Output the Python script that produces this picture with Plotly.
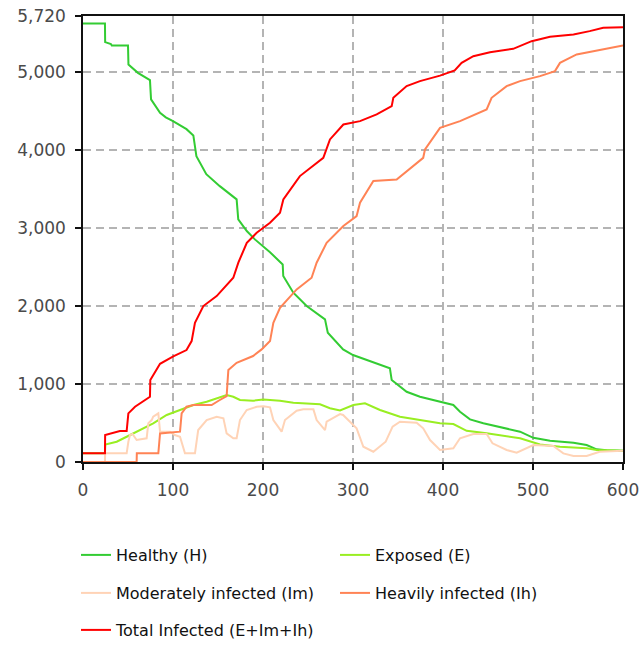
import plotly.graph_objects as go

# ---------------- data ----------------
time_h = [0, 24.4, 24.6, 31, 32, 50, 50.5, 61, 74.4, 75.6, 85.6, 92, 100, 115, 122.6, 126, 137, 152,
          170.7, 172.5, 182, 191, 207.8, 221.9, 222.5, 233.7, 248.5, 268.9, 272, 289, 300, 319, 330,
          341, 343, 359.6, 374.4, 396.7, 411.5, 418.9, 430, 444.8, 470.7, 485.6, 500.4, 518.9, 545,
          559.6, 570.7, 581.8, 600]
healthy = [5624, 5624, 5385, 5360, 5342, 5342, 5099, 4991, 4897, 4650, 4479, 4420, 4372, 4269, 4188,
           3923, 3692, 3538, 3368, 3111, 2962, 2855, 2690, 2534, 2385, 2171, 2000, 1829, 1658, 1444,
           1372, 1295, 1244, 1201, 1051, 901, 837, 773, 731, 645, 547, 496, 432, 389, 310, 273, 248,
           218, 162, 150, 145]

time_e = [0, 24.4, 24.8, 37.4, 48.5, 63.3, 78, 93, 107.8, 122.6, 137.4, 152, 159.6, 167, 174.4, 189,
          200.4, 218.9, 233.7, 263.3, 274.4, 285.6, 300.4, 313.3, 330, 352.2, 374.4, 396.7, 411.5,
          426.3, 448.5, 485.6, 507.8, 530, 559.6, 570.7, 600]
exposed = [111, 111, 225, 260, 324, 410, 496, 603, 667, 731, 773, 829, 859, 837, 795, 786,
           800, 786, 760, 740, 690, 660, 730, 752, 667, 581, 538, 496, 487,
           400, 368, 304, 225, 196, 175, 154, 145]

time_im = [0, 24.4, 24.6, 48.5, 50.4, 52.2, 55, 59.6, 70.7, 72.6, 76.3, 78, 83.7, 85.6, 96.7, 102,
           107.8, 113.3, 124.4, 128, 137.4, 148.5, 156, 159.6, 167, 170.7, 174.4, 181.9, 193, 200.4,
           207.8, 211.5, 220.7, 224.4, 237.4, 244.8, 256, 259.6, 268.9, 270.7, 285.6, 289, 304,
           311.5, 322.6, 336.3, 344, 352.2, 370.7, 378, 385.6, 396.7, 411.5, 418.9, 433.7, 448.5,
           455, 470.7, 481.9, 493, 500.4, 522.6, 533.7, 545, 559.6, 574, 600]
moderate = [0, 0, 111, 111, 260, 346, 360, 282, 304, 496, 538, 581, 624, 389, 389, 346,
            324, 111, 111, 410, 538, 581, 560, 367, 304, 304, 538, 667, 709, 715,
            701, 538, 389, 538, 658, 675, 675, 538, 410, 517, 615, 603, 432,
            196, 132, 260, 453, 517, 504, 432, 282, 154, 175, 304, 359, 359,
            240, 154, 119, 175, 218, 205, 111, 77, 77, 132, 145]

time_ih = [0, 59.6, 59.8, 83.7, 85.6, 93, 102, 107.8, 109.6, 115, 122.6, 142.9, 152, 159.6, 160.5,
           161.5, 170.7, 189, 198.5, 207.8, 211.5, 218.9, 237.4, 254, 259.6, 270.7, 289.3, 304,
           307.8, 322.6, 348.5, 367, 378, 380, 396.7, 418.9, 448.5, 454, 470.7, 485.6, 507.8,
           524.4, 530, 548.5, 567, 581.8, 600]
heavy = [0, 0, 111, 111, 367, 376, 389, 389, 624, 709, 731, 731, 795, 846, 1009,
         1179, 1273, 1359, 1444, 1551, 1786, 1978, 2214, 2363, 2556, 2812, 3026, 3154,
         3325, 3603, 3624, 3795, 3901, 4009, 4286, 4372, 4521, 4671, 4821, 4885, 4949,
         5013, 5119, 5227, 5269, 5299, 5342]

time_t = [0, 24.4, 24.6, 31.9, 41, 48.5, 50.4, 57.8, 70.7, 74.4, 74.8, 80, 85.6, 100.3, 115, 120.7,
          124.4, 133.7, 148.5, 167, 172.6, 182, 193, 207.8, 218.9, 222.6, 241, 267, 274.4, 289.3,
          307.8, 326.3, 343, 344.8, 359.6, 374.4, 396.7, 413, 420.7, 433.7, 452.2, 478, 498.5,
          518.9, 545, 563, 578, 600]
total = [111, 111, 346, 367, 397, 397, 624, 709, 816, 837, 1051, 1158, 1260, 1355, 1436, 1551,
         1786, 2000, 2128, 2363, 2556, 2812, 2940, 3068, 3196, 3368, 3667, 3901, 4137, 4329,
         4372, 4458, 4564, 4671, 4821, 4885, 4955, 5022, 5119, 5205, 5256, 5299, 5397,
         5453, 5483, 5526, 5568, 5577]

series_names = ["Healthy (H)", "Exposed (E)", "Moderately infected (Im)",
                "Heavily infected (Ih)", "Total Infected (E+Im+Ih)"]
series_colors = ["#33cc33", "#99ee22", "#ffd3b6", "#ff8355", "#ff0000"]

x_ticks = [0, 100, 200, 300, 400, 500, 600]
y_ticks = [0, 1000, 2000, 3000, 4000, 5000, 5720]
y_tick_text = ["0", "1,000", "2,000", "3,000", "4,000", "5,000", "5,720"]

# ---------------- figure ----------------
W, H = 643, 646
series = [(time_h, healthy), (time_e, exposed), (time_im, moderate), (time_ih, heavy), (time_t, total)]
legend_ids = ["legend", "legend2", "legend3", "legend4", "legend5"]

fig = go.Figure()
for (xs, ys), name, col, lg in zip(series, series_names, series_colors, legend_ids):
    fig.add_trace(go.Scatter(x=xs, y=ys, mode="lines", name=name, legend=lg,
                             line=dict(color=col, width=2)))

# legend item positions (text left edge, row centre) in pixels
text_left = [116, 375, 116, 375, 116]
row_mid = [555, 555, 593, 593, 630]
legend_font = dict(family="DejaVu Sans", size=16, color="#111111")
legend_layouts = {}
for lg, tx, ry in zip(legend_ids, text_left, row_mid):
    legend_layouts[lg] = dict(
        xref="container", yref="container",
        x=(tx - 40) / W, y=1 - ry / H,
        xanchor="left", yanchor="middle",
        orientation="v", itemwidth=30,
        bgcolor="rgba(0,0,0,0)", borderwidth=0,
        font=legend_font,
    )

axis_font = dict(family="DejaVu Sans", size=17, color="#4a4a4a")
fig.update_layout(
    width=W, height=H,
    margin=dict(l=83, r=20, t=16, b=184, autoexpand=False),
    paper_bgcolor="white", plot_bgcolor="white",
    showlegend=True,
    **legend_layouts,
)
fig.update_xaxes(
    range=[0, 600], tickvals=x_ticks, ticktext=[str(v) for v in x_ticks],
    showgrid=True, gridcolor="#b4b4b4", gridwidth=1.5, griddash="8px,5px",
    showline=True, linecolor="#111111", linewidth=1.5, mirror=True,
    ticks="outside", ticklen=6, tickcolor="#111111", tickwidth=1.5,
    tickfont=axis_font, zeroline=False, ticklabelstandoff=6, automargin=False,
)
fig.update_yaxes(
    range=[0, 5720], tickvals=y_ticks, ticktext=y_tick_text,
    showgrid=True, gridcolor="#b4b4b4", gridwidth=1.5, griddash="8px,5px",
    showline=True, linecolor="#111111", linewidth=1.5, mirror=True,
    ticks="outside", ticklen=6, tickcolor="#111111", tickwidth=1.5,
    tickfont=axis_font, zeroline=False, ticklabelstandoff=6, automargin=False,
)

fig.write_html("out.html")
